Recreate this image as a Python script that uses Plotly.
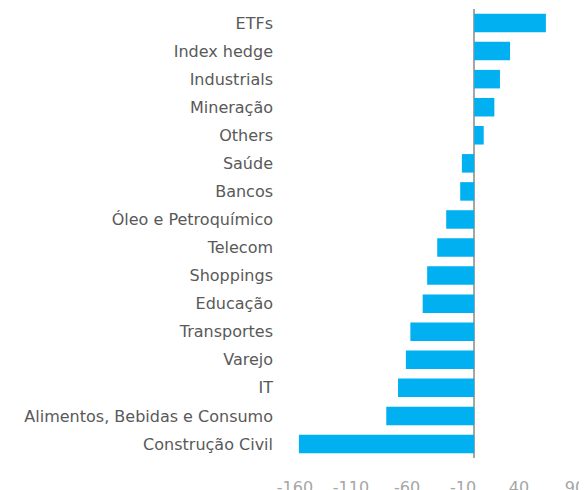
import plotly.graph_objects as go

categories = ["ETFs", "Index hedge", "Industrials", "Mineração", "Others", "Saúde", "Bancos",
              "Óleo e Petroquímico", "Telecom", "Shoppings", "Educação", "Transportes",
              "Varejo", "IT", "Alimentos, Bebidas e Consumo", "Construção Civil"]
values = [64, 32, 23, 18, 8.5, -11, -12.5, -25, -33, -42, -46, -57, -61, -68, -78.5, -156.5]
tick_vals = [-160, -110, -60, -10, 40, 90]
tick_labels = ["-160", "-110", "-60", "-10", "40", "90"]

fig = go.Figure(go.Bar(
    x=values, y=categories, orientation="h",
    marker=dict(color="#00B0F0", line=dict(width=0)),
))

# page body has an 8px margin, so figure is sized/positioned to compensate
fig.update_layout(
    width=579, height=482,
    margin=dict(l=287, r=12, t=1, b=32, autoexpand=False),
    plot_bgcolor="white", paper_bgcolor="white",
    bargap=0.34,
    showlegend=False,
    font=dict(family="DejaVu Sans", size=16, color="#595959"),
)
fig.update_xaxes(
    range=[-160, 90], tickvals=tick_vals, ticktext=tick_labels, showgrid=False,
    zeroline=True, zerolinecolor="#a6a6a6", zerolinewidth=2,
    showline=False, ticks="", ticklabelstandoff=18, automargin=False,
    tickfont=dict(color="#a6a6a6", size=16),
)
fig.update_yaxes(
    autorange="reversed", showgrid=False, showline=False, ticks="",
    ticklabelstandoff=21, automargin=False,
    tickfont=dict(color="#595959", size=16),
)

fig.write_html("out.html")
